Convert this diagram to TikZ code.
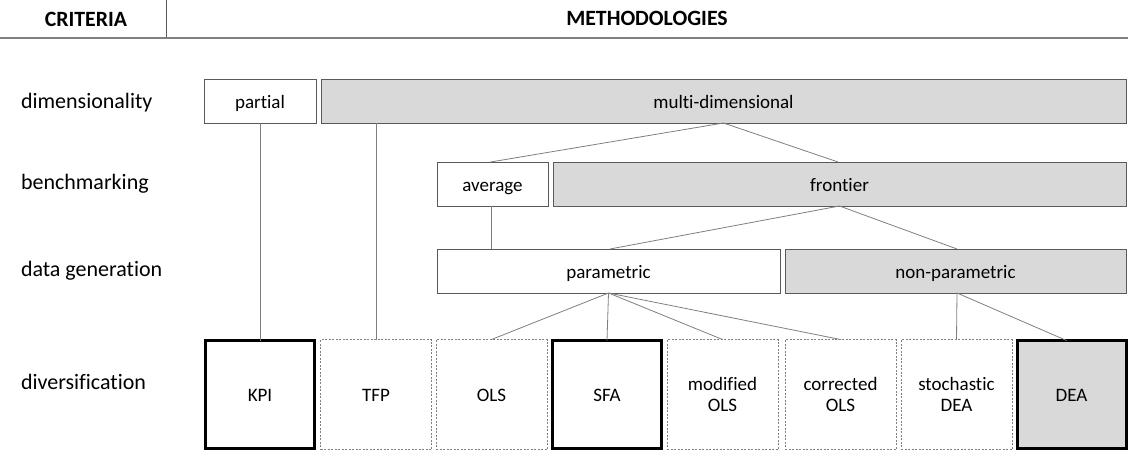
\documentclass[tikz,border=0pt]{standalone}
\usepackage{fontspec}
\setmainfont{Carlito}[Ligatures=NoCommon]
\definecolor{boxgray}{HTML}{D9D9D9}
\definecolor{edgegray}{HTML}{595959}
\definecolor{linegray}{HTML}{7F7F7F}
\begin{document}
\begin{tikzpicture}[x=1pt,y=-1pt,
  every node/.style={inner sep=0pt, outer sep=0pt},
  boxfont/.style={font=\fontsize{19}{21}\selectfont},
  oneline/.style={text height=18pt, text depth=4pt},
  plainbox/.style={draw=edgegray, line width=0.8pt, fill=white, boxfont, oneline, minimum height=44pt},
  graybox/.style={plainbox, fill=boxgray},
  thickbox/.style={draw=black, line width=3pt, fill=white, boxfont, text height=16pt, text depth=2pt, minimum width=109pt, minimum height=108pt},
  dashbox/.style={draw=linegray, line width=0.7pt, dash pattern=on 2pt off 1.5pt, fill=white, boxfont, minimum width=111pt, minimum height=110pt},
  dashone/.style={dashbox, text height=16pt, text depth=2pt},
  dashtwo/.style={dashbox, align=center},
  rowlabel/.style={anchor=base west, font=\fontsize{22}{26}\selectfont},
  header/.style={anchor=base, font=\bfseries\fontsize{21.8}{26}\selectfont},
  conn/.style={draw=linegray, line width=0.8pt}
]
\useasboundingbox (0,0) rectangle (1128,452);

% header
\node[header] (crit) at (86,26.5) {CRITERIA};
\node[header] (meth) at (647,25.5) {METHODOLOGIES};
\coordinate (hl) at (0,38);
\coordinate (hr) at (1128,38);
\coordinate (vt) at (166,0);
\coordinate (vb) at (166,37);
\draw[draw=linegray, line width=1.5pt] (hl) -- (hr);
\draw[draw=edgegray, line width=0.8pt] (vt) -- (vb);

% row labels
\node[rowlabel] (ldim) at (21,108) {dimensionality};
\node[rowlabel] (lben) at (21,189) {benchmarking};
\node[rowlabel] (ldat) at (21,276) {data generation};
\node[rowlabel] (ldiv) at (21,389) {diversification};

% row 1
\node[plainbox, minimum width=112pt] (partial) at (260,101) {partial};
\node[graybox, minimum width=805pt] (multi) at (723.5,101) {multi-dimensional};
% row 2
\node[plainbox, minimum width=111pt] (average) at (492.5,184) {average};
\node[graybox, minimum width=573pt] (frontier) at (839.5,184) {frontier};
% row 3
\node[plainbox, minimum width=343pt] (param) at (608.5,271) {parametric};
\node[graybox, minimum width=341pt] (nonparam) at (955.5,271) {non-parametric};
% row 4
\node[thickbox] (kpi) at (260,394.5) {KPI};
\node[dashone] (tfp) at (376,394.5) {TFP};
\node[dashone] (ols) at (491.5,394.5) {OLS};
\node[thickbox] (sfa) at (607,394.5) {SFA};
\node[dashtwo] (mols) at (722.5,394.5) {modified\\OLS};
\node[dashtwo] (cols) at (840.5,394.5) {corrected\\OLS};
\node[dashtwo] (sdea) at (956.5,394.5) {stochastic\\DEA};
\node[thickbox, fill=boxgray] (dea) at (1071.5,394.5) {DEA};

% connectors
\draw[conn] (partial.south) -- (kpi.north);
\draw[conn] (tfp.north |- multi.south) -- (tfp.north);
\draw[conn] (multi.south) -- ([xshift=-2pt]average.north);
\draw[conn] (multi.south) -- ([xshift=-1.5pt]frontier.north);
\draw[conn] (average.south -| ols.north) -- (param.north -| ols.north);
\draw[conn] (frontier.south) -- ([xshift=1.5pt]param.north);
\draw[conn] (frontier.south) -- ([xshift=1.5pt]nonparam.north);
\draw[conn] (param.south) -- (ols.north);
\draw[conn] (param.south) -- (sfa.north);
\draw[conn] (param.south) -- (mols.north);
\draw[conn] (param.south) -- (cols.north);
\draw[conn] ([xshift=1.5pt]nonparam.south) -- (sdea.north);
\draw[conn] ([xshift=1.5pt]nonparam.south) -- ([xshift=-5pt]dea.north);
\end{tikzpicture}
\end{document}
